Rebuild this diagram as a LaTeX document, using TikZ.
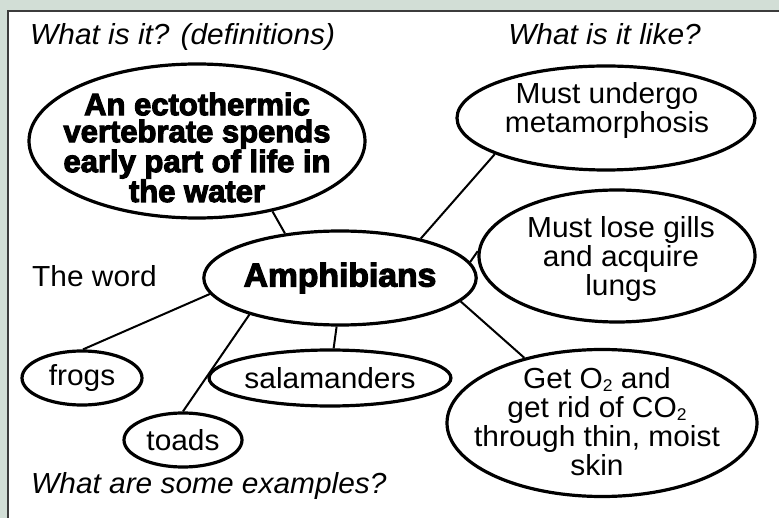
\documentclass[tikz,border=0pt]{standalone}
\usepackage{fontspec}
\setmainfont{Liberation Sans}[FakeStretch=1.03]
\newfontfamily\blackfont{Liberation Sans Bold}[FakeBold=3.5,FakeStretch=1.0]
\newfontfamily\blackwide{Liberation Sans Bold}[FakeBold=3.5,FakeStretch=1.02]
\usetikzlibrary{shapes.geometric}
\definecolor{bgc}{RGB}{210,222,214}
\definecolor{framec}{RGB}{60,60,60}
\begin{document}
\begin{tikzpicture}[x=1pt,y=-1pt,
  bubble/.style={draw=black, line width=3.2pt, ellipse, inner sep=0pt, fill=white},
  link/.style={draw=black, line width=2pt},
  reg/.style={font=\fontsize{29}{29}\selectfont, inner sep=0pt},
  regml/.style={reg, align=center, anchor=base},
  heading/.style={font=\fontsize{29}{29}\selectfont\itshape, inner sep=0pt},
  blk/.style={font=\blackfont\fontsize{31}{27}\selectfont, inner sep=0pt, align=center}]
\useasboundingbox (0,0) rectangle (779,518);
\clip (0,0) rectangle (779,518);
\fill[bgc] (0,0) rectangle (779,518);
\draw[framec, line width=1.8pt, fill=white] (8,11) rectangle (800,540);

% headings
\node[heading, anchor=base west] (h1) at (30,45) {What is it? (definitions)};
\node[heading, anchor=base east] (h2) at (701,45) {What is it like?};
\node[heading, anchor=base west] (h3) at (31,493) {What are some examples?};
\node[reg, anchor=base west] (word) at (32,287) {The word};

% ellipses
\node[bubble, minimum width=336pt, minimum height=154pt] (def) at (197,141) {};
\node[blk, anchor=base] (deft) at (197,202) {An ectothermic\\vertebrate spends\\early part of life in\\the water};

\node[bubble, minimum width=226pt, minimum height=94pt, font=\blackwide\fontsize{33}{33}\selectfont] (amph) at (340,278) {Amphibians};

\node[bubble, minimum width=298pt, minimum height=104pt] (meta) at (606,118) {};
\node[regml] (metat) at (607,133) {Must undergo\\metamorphosis};

\node[bubble, minimum width=276pt, minimum height=132pt] (gills) at (617,256) {};
\node[regml] (gillst) at (621,296) {Must lose gills\\and acquire\\lungs};

\node[bubble, minimum width=310pt, minimum height=147pt] (gas) at (602,423) {};
\node[regml] (gast) at (597,475) {Get O\raisebox{-0.25ex}{\fontsize{17}{17}\selectfont 2} and\\get rid of CO\raisebox{-0.25ex}{\fontsize{17}{17}\selectfont 2}\\through thin, moist\\skin};

\node[bubble, reg, minimum width=120pt, minimum height=54pt] (frogs) at (82,378) {frogs};
\node[bubble, reg, minimum width=118pt, minimum height=54pt] (toads) at (183,440) {toads};
\node[bubble, reg, minimum width=194pt, minimum height=56pt] (sal) at (330,378) {salamanders};

% connectors
\draw[link] (def.-43) -- (amph.141.5);
\draw[link] (amph.26.3) -- (meta.-162.8);
\draw[link] (amph.7.3) -- (gills.178);
\draw[link] (amph.-11.3) -- (gas.140);
\draw[link] (amph.-94) -- (sal.83);
\draw[link] (amph.-158.7) -- (toads.90);
\draw[link] (amph.-173.4) -- (frogs.88);
\end{tikzpicture}
\end{document}
